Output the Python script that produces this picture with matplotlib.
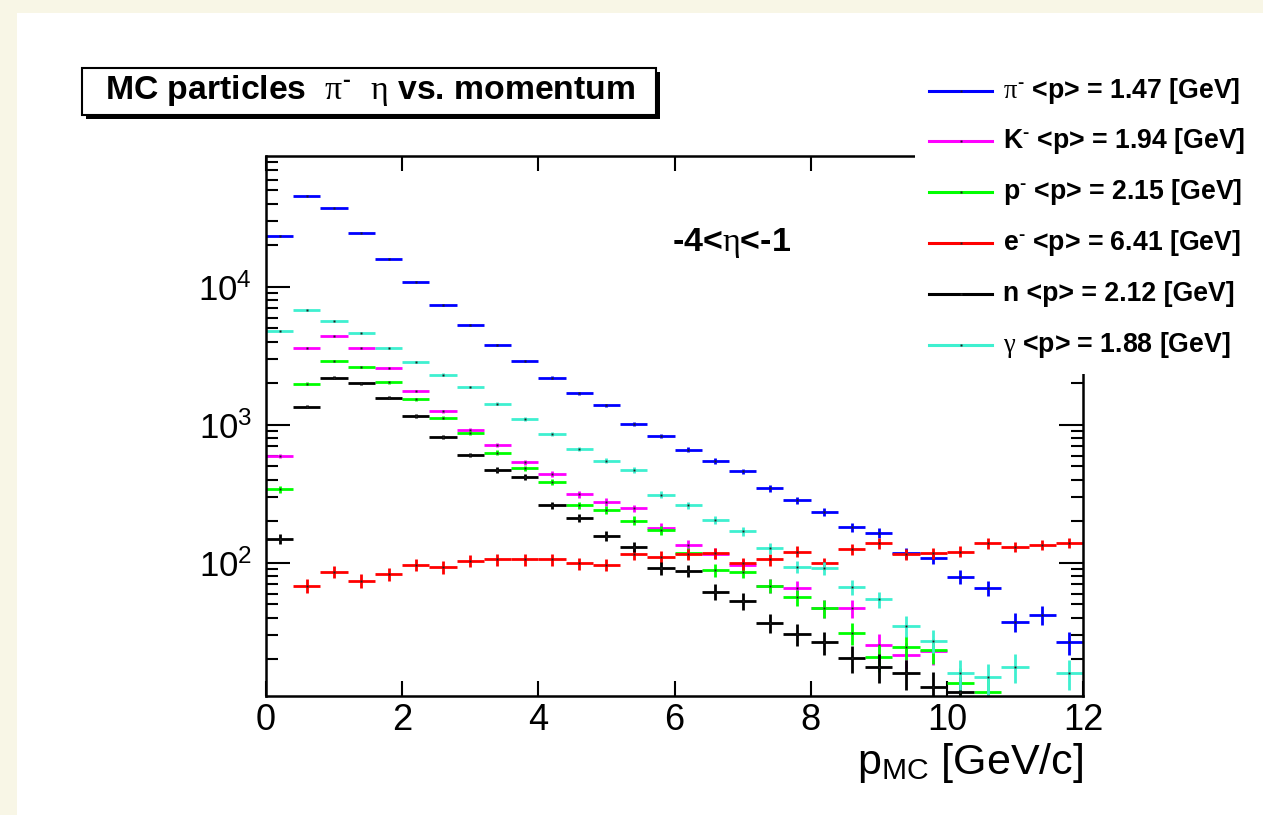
import numpy as np
import matplotlib
matplotlib.use("Agg")
import matplotlib.pyplot as plt
from matplotlib.patches import Rectangle
from matplotlib.lines import Line2D
from matplotlib.ticker import FixedLocator, NullLocator, FixedFormatter, LogLocator, NullFormatter

plt.rcParams['font.family'] = ['Liberation Sans', 'DejaVu Sans']
plt.rcParams['mathtext.fontset'] = 'custom'
plt.rcParams['mathtext.rm'] = 'Liberation Sans:bold'
plt.rcParams['mathtext.bf'] = 'Liberation Sans:bold'
plt.rcParams['mathtext.it'] = 'Liberation Serif'
plt.rcParams['mathtext.sf'] = 'Liberation Sans'

# ---- data (30 momentum bins, 0..12 GeV/c, width 0.4) ----
bin_edges = np.linspace(0, 12, 31)
pi_minus = [23500, 45900, 37400, 24800, 16000, 10900, 7400, 5300, 3800, 2920,
            2200, 1700, 1390, 1020, 832, 662, 548, 462, 348, 285,
            235, 182, 165, 118, 109, 79.6, 66.2, 37.6, 42.0, 26.6]
k_minus = [596, 3590, 4410, 3590, 2575, 1763, 1257, 919, 714, 537,
           439, 314, 277, 249, 180, 134, 117, 97, 68.5, 65.5,
           47, 47, 25.3, 21.7, 23, 0, 0, 0, 0, 0]
p_minus = [342, 1992, 2924, 2630, 2040, 1536, 1130, 879, 630, 486,
           386, 262, 242, 203, 173, 117.5, 89, 86.5, 68.5, 56.4,
           47, 30.9, 20.8, 24.6, 23.4, 13.6, 11.6, 0, 0, 0]
e_minus = [0, 68.5, 86.5, 74.1, 82.8, 96.7, 93, 104, 106, 106,
           106, 99.5, 96.7, 116, 111, 116, 117.5, 99.5, 106, 120.8,
           99.5, 126, 139, 116, 117.5, 120.8, 139, 131, 135, 140]
neutron = [148.6, 1358, 2200, 2005, 1577, 1162, 815, 606, 472, 418,
           262, 213, 157, 131, 91.5, 88, 62, 53, 36.9, 30.4,
           26.6, 20.6, 17.7, 15.9, 12.7, 11.6, 0, 0, 0, 0]
gamma = [4776, 6850, 5700, 4670, 3590, 2860, 2320, 1885, 1426, 1104,
         855, 669, 551, 472, 312, 262, 205, 169, 128, 94,
         91.5, 66.7, 54.5, 35.1, 27.4, 15.9, 14.8, 17.7, 0, 15.9]

series = [pi_minus, k_minus, p_minus, e_minus, neutron, gamma]
colors = ['#0000ff', '#ff00ff', '#00ff00', '#ff0000', '#000000', '#3ff0d0']
labels = [r'$\pi^{\text{-}}$ <p> = 1.47 [GeV]', r'K$^{\text{-}}$ <p> = 1.94 [GeV]',
          r'p$^{\text{-}}$ <p> = 2.15 [GeV]', r'e$^{\text{-}}$ <p> = 6.41 [GeV]',
          r'n <p> = 2.12 [GeV]', r'$\gamma$ <p> = 1.88 [GeV]']

W, H = 1263, 815
fig = plt.figure(figsize=(W / 100, H / 100), dpi=100)
fig.patch.set_facecolor('white')

def fx(px):
    return px / W

def fy(py):
    return 1 - py / H

# beige frame
fig.add_artist(Rectangle((0, 0), fx(17), 1, transform=fig.transFigure,
                         facecolor='#f8f6e6', edgecolor='none', zorder=-5))
fig.add_artist(Rectangle((0, fy(13)), 1, 13 / H, transform=fig.transFigure,
                         facecolor='#f8f6e6', edgecolor='none', zorder=-5))

ax = fig.add_axes([fx(266), fy(696), (1083 - 266) / W, (696 - 156) / H])
ax.set_yscale('log')
ax.set_xlim(0, 12)
ax.set_ylim(10.86, 88900)

centers = 0.5 * (bin_edges[:-1] + bin_edges[1:])
half = 0.5 * np.diff(bin_edges)
for vals, col in zip(series, colors):
    v = np.asarray(vals, dtype=float)
    m = v > 0
    ax.errorbar(centers[m], v[m], xerr=half[m], yerr=np.sqrt(v[m]), fmt='none',
                ecolor=col, elinewidth=2.0, capsize=0)
    ax.plot(centers[m], v[m], linestyle='none', marker='s', markersize=1.6,
            markerfacecolor='#202020', markeredgecolor='none')

# ticks
ax.xaxis.set_major_locator(FixedLocator([0, 2, 4, 6, 8, 10, 12]))
ax.xaxis.set_minor_locator(NullLocator())
ax.set_xticklabels(['0', '2', '4', '6', '8', '10', '12'])
ax.yaxis.set_major_locator(FixedLocator([100, 1000, 10000]))
ax.yaxis.set_major_formatter(FixedFormatter([r'$\mathdefault{10^{2}}$',
                                             r'$\mathdefault{10^{3}}$',
                                             r'$\mathdefault{10^{4}}$']))
ax.yaxis.set_minor_locator(LogLocator(base=10, subs=np.arange(2, 10)))
ax.yaxis.set_minor_formatter(NullFormatter())
ax.tick_params(which='both', direction='in', top=True, right=True, width=1.5)
ax.tick_params(axis='x', which='major', length=11, labelsize=26, pad=5)
ax.tick_params(axis='y', which='major', length=17, labelsize=25, pad=10)
ax.tick_params(axis='y', which='minor', length=8.5)
for s in ax.spines.values():
    s.set_linewidth(1.8)

ax.set_xlabel(r'p$_{\mathdefault{MC}}$ [GeV/c]', fontsize=31, loc='right', labelpad=2)

# eta range text
fig.text(fx(672), fy(243), r'-4<$\eta$<-1', fontsize=24.5, fontweight='bold',
         va='center', ha='left')

# title box with shadow
tx0, tx1, ty0, ty1 = 82, 656, 68, 115
fig.add_artist(Rectangle((fx(tx0 + 4), fy(ty1 + 4)), (tx1 - tx0) / W, (ty1 - ty0) / H,
                         transform=fig.transFigure, facecolor='black', edgecolor='none', zorder=4))
fig.add_artist(Rectangle((fx(tx0), fy(ty1)), (tx1 - tx0) / W, (ty1 - ty0) / H,
                         transform=fig.transFigure, facecolor='white', edgecolor='black',
                         linewidth=1.5, zorder=5))
fig.text(fx(370), fy(90), r'MC particles  $\pi^{\text{-}}$  $\eta$ vs. momentum',
         fontsize=24.3, fontweight='bold', ha='center', va='center', zorder=6)

# legend box (covers the top-right corner of the frame)
lx0, lx1, ly0, ly1 = 915, 1263, 60, 374
fig.add_artist(Rectangle((fx(lx0), fy(ly1)), (lx1 - lx0) / W, (ly1 - ly0) / H,
                         transform=fig.transFigure, facecolor='white', edgecolor='none', zorder=5))
entry_y = [91, 141, 192, 243, 294, 345]
for yy, col, lab in zip(entry_y, colors, labels):
    fig.add_artist(Line2D([fx(929), fx(992)], [fy(yy), fy(yy)], transform=fig.transFigure,
                          color=col, linewidth=2.2, zorder=6))
    fig.add_artist(Line2D([fx(960.5)], [fy(yy)], transform=fig.transFigure, linestyle='none',
                          marker='s', markersize=1.6, markerfacecolor='#202020',
                          markeredgecolor='none', zorder=7))
    fig.text(fx(1003), fy(yy), lab, fontsize=19.2, fontweight='bold', ha='left', va='center', zorder=6)

fig.savefig('out.png', dpi=100, facecolor=fig.get_facecolor())
